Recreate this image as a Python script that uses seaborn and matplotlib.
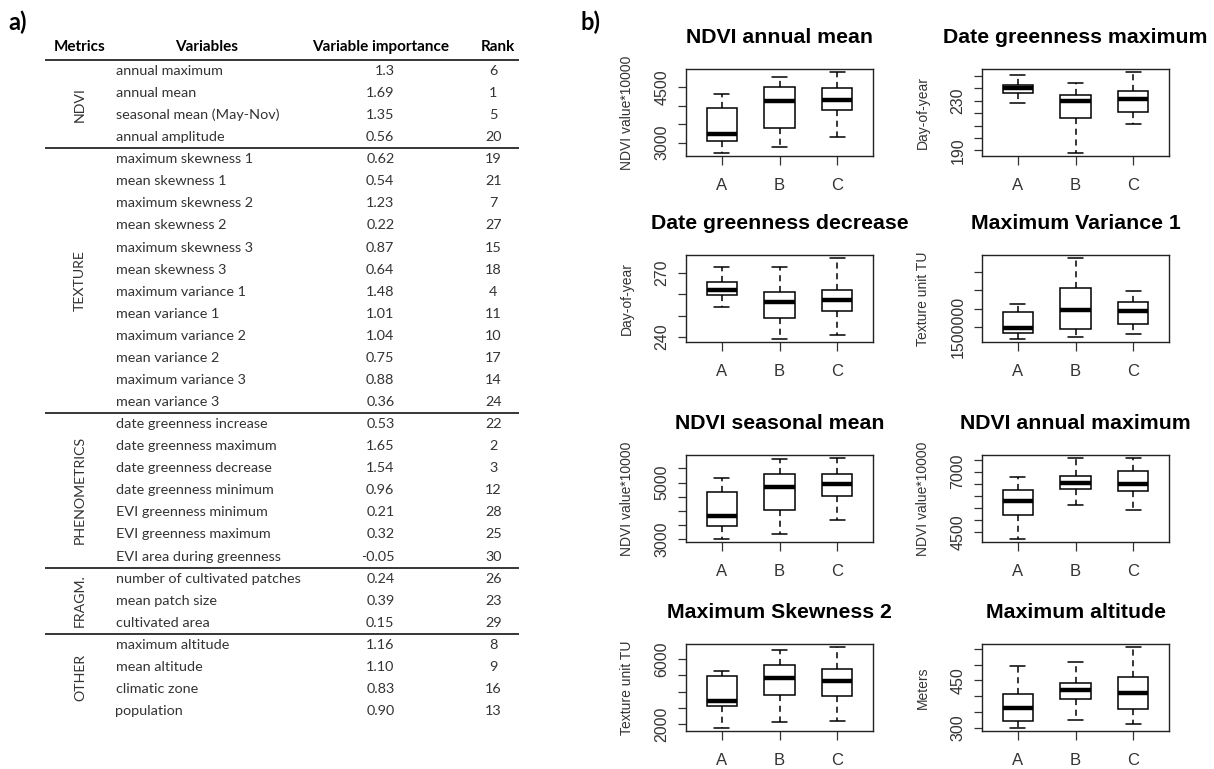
import pandas as pd
import matplotlib
matplotlib.use('Agg')
import matplotlib.pyplot as plt
import seaborn as sns

# ---- panel a) table ----
group_names = ['NDVI', 'TEXTURE', 'PHENOMETRICS', 'FRAGM.', 'OTHER']
group_sizes = [4, 12, 7, 3, 4]
variables = [
    'annual maximum', 'annual mean', 'seasonal mean (May-Nov)', 'annual amplitude',
    'maximum skewness 1', 'mean skewness 1', 'maximum skewness 2', 'mean skewness 2',
    'maximum skewness 3', 'mean skewness 3', 'maximum variance 1', 'mean variance 1',
    'maximum variance 2', 'mean variance 2', 'maximum variance 3', 'mean variance 3',
    'date greenness increase', 'date greenness maximum', 'date greenness decrease',
    'date greenness minimum', 'EVI greenness minimum', 'EVI greenness maximum',
    'EVI area during greenness',
    'number of cultivated patches', 'mean patch size', 'cultivated area',
    'maximum altitude', 'mean altitude', 'climatic zone', 'population',
]
importance = [
    '1.3', '1.69', '1.35', '0.56',
    '0.62', '0.54', '1.23', '0.22', '0.87', '0.64', '1.48', '1.01', '1.04', '0.75',
    '0.88', '0.36',
    '0.53', '1.65', '1.54', '0.96', '0.21', '0.32', '-0.05',
    '0.24', '0.39', '0.15',
    '1.16', '1.10', '0.83', '0.90',
]
ranks = [6, 1, 5, 20, 19, 21, 7, 27, 15, 18, 4, 11, 10, 17, 14, 24,
         22, 2, 3, 12, 28, 25, 30, 26, 23, 29, 8, 9, 16, 13]

# ---- panel b) boxplots: [min, Q1, median, Q3, max] per zone ----
zones = ['A', 'B', 'C']
ndvi_annual_mean = [[2723, 3054, 3232, 3946, 4321],
                    [2884, 3384, 4125, 4500, 4768],
                    [3152, 3875, 4161, 4473, 4902]]
date_green_max = [[227.9, 235.9, 240.4, 242.8, 250.8],
                  [188.1, 215.9, 230.0, 234.8, 243.9],
                  [211.1, 220.7, 231.1, 237.5, 252.9]]
date_green_dec = [[254.0, 259.6, 262.0, 265.9, 272.8],
                  [239.1, 248.8, 256.3, 260.9, 272.8],
                  [241.1, 251.9, 257.3, 262.0, 276.9]]
max_variance_1 = [[1169000, 1316000, 1472000, 1905000, 2135000],
                  [1224000, 1445000, 1970000, 2568000, 3388000],
                  [1288000, 1583000, 1942000, 2172000, 2494000]]
ndvi_seasonal_mean = [[3024, 3483, 3837, 4651, 5158],
                      [3177, 4038, 4828, 5288, 5830],
                      [3684, 4533, 4946, 5288, 5854]]
ndvi_annual_max = [[4222, 5222, 5778, 6222, 6778],
                   [5639, 6278, 6528, 6833, 7556],
                   [5403, 6181, 6486, 7028, 7556]]
max_skewness_2 = [[1797, 3157, 3442, 4985, 5289],
                  [2162, 3827, 4843, 5655, 6589],
                  [2223, 3766, 4640, 5371, 6731]]
max_altitude = [[300, 321, 363, 408, 495],
                [325, 390, 419.5, 442.6, 507.5],
                [310.5, 358.7, 411, 460.4, 554.7]]

panels = [
    ('NDVI annual mean', 'NDVI value*10000', ndvi_annual_mean,
     [3000, 3500, 4000, 4500], ['3000', '', '', '4500']),
    ('Date greenness maximum', 'Day-of-year', date_green_max,
     [190, 200, 210, 220, 230, 240, 250], ['190', '', '', '', '230', '', '']),
    ('Date greenness decrease', 'Day-of-year', date_green_dec,
     [240, 250, 260, 270], ['240', '', '', '270']),
    ('Maximum Variance 1', 'Texture unit TU', max_variance_1,
     [1500000, 2000000, 2500000, 3000000], ['1500000', '', '', '']),
    ('NDVI seasonal mean', 'NDVI value*10000', ndvi_seasonal_mean,
     [3000, 3500, 4000, 4500, 5000, 5500], ['3000', '', '', '', '5000', '']),
    ('NDVI annual maximum', 'NDVI value*10000', ndvi_annual_max,
     [4500, 5000, 5500, 6000, 6500, 7000, 7500],
     ['4500', '', '', '', '', '7000', '']),
    ('Maximum Skewness 2', 'Texture unit TU', max_skewness_2,
     [2000, 3000, 4000, 5000, 6000], ['2000', '', '', '', '6000']),
    ('Maximum altitude', 'Meters', max_altitude,
     [300, 350, 400, 450, 500, 550], ['300', '', '', '450', '', '']),
]

W, H = 1214, 769
sns.set_theme(style='ticks')
plt.rcParams['font.family'] = ['Liberation Sans', 'DejaVu Sans']

fig = plt.figure(figsize=(W / 100, H / 100), dpi=100)
fig.patch.set_facecolor('white')

# table drawn in pixel coordinates
tab = fig.add_axes([0, 0, 1, 1])
tab.set_xlim(0, W)
tab.set_ylim(H, 0)
tab.axis('off')

tfont = ['Lato', 'DejaVu Sans']
row0, step = 71, 22.07
tab.text(8, 22, 'a)', fontsize=17, fontweight='bold', family=tfont, va='center', color='black')
tab.text(580, 22, 'b)', fontsize=17, fontweight='bold', family=tfont, va='center', color='black')

for x, name in zip([80, 207, 381, 498],
                   ['Metrics', 'Variables', 'Variable importance', 'Rank']):
    tab.text(x, 47, name, fontsize=11, fontweight='bold', family=tfont,
             ha='center', va='center', color='black')
tab.hlines(60, 45, 519, color='black', lw=1.1)

for i, (var, imp, rk) in enumerate(zip(variables, importance, ranks)):
    y = row0 + i * step
    tab.text(115.5, y, var, fontsize=10.4, family=tfont, ha='left', va='center', color='#333')
    tab.text(394.5, y, imp, fontsize=10.4, family=tfont, ha='right', va='center', color='#333')
    tab.text(493.5, y, str(rk), fontsize=10.4, family=tfont, ha='center', va='center', color='#333')

start = 0
for g, n in zip(group_names, group_sizes):
    yc = row0 + (start + (n - 1) / 2) * step
    tab.text(80, yc, g, fontsize=10.2, family=tfont, rotation=90,
             ha='center', va='center', color='#333')
    start += n
    if start < len(variables):
        tab.hlines(row0 + (start - 0.5) * step, 45, 519, color='black', lw=1.1)

# boxplot panels
lefts = [686, 982]
tops = [69, 255, 455, 644]
pw, ph = 187, 87

for k, (title, ylabel, stats, ticks, ticklabels) in enumerate(panels):
    left = lefts[k % 2]
    top = tops[k // 2]
    ax = fig.add_axes([left / W, 1 - (top + ph) / H, pw / W, ph / H])
    df = pd.DataFrame([(z, v) for z, vals in zip(zones, stats) for v in vals],
                      columns=['zone', 'value'])
    sns.boxplot(data=df, x='zone', y='value', order=zones, ax=ax,
                color='white', linecolor='black', linewidth=1.1, width=0.52,
                whis=(0, 100), showfliers=False,
                whiskerprops=dict(linestyle=(0, (4, 3))),
                medianprops=dict(linewidth=3.2))
    lo = min(min(s) for s in stats)
    hi = max(max(s) for s in stats)
    pad = 0.04 * (hi - lo)
    ax.set_ylim(lo - pad, hi + pad)
    ax.set_xlim(-0.62, 2.62)
    ax.set_yticks(ticks)
    ax.set_yticklabels(ticklabels, rotation=90, va='center')
    ax.set_xlabel('')
    ax.set_ylabel(ylabel, fontsize=10, color='#333')
    ax.yaxis.set_label_coords(-52 / pw, 0.5)
    ax.set_title(title, fontsize=15.3, fontweight='bold', pad=19, color='black')
    ax.tick_params(axis='y', direction='out', length=5.8, width=0.9,
                   pad=6, labelsize=11.5, colors='#333')
    ax.tick_params(axis='x', direction='out', length=6.5, width=0.9,
                   pad=9, labelsize=12, colors='#333')
    for sp in ax.spines.values():
        sp.set_visible(True)
        sp.set_linewidth(1.0)
        sp.set_color('#222')

fig.savefig('out.png', dpi=100, facecolor='white')
